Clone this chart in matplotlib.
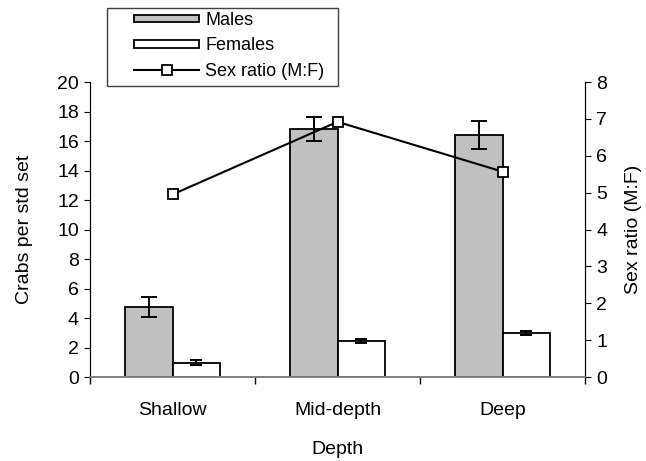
import matplotlib
matplotlib.use("Agg")
import matplotlib.pyplot as plt
import numpy as np
from matplotlib.patches import Patch, Rectangle
from matplotlib.lines import Line2D

plt.rcParams['font.family'] = ['Liberation Sans', 'DejaVu Sans']

categories = ["Shallow", "Mid-depth", "Deep"]
males = [4.77, 16.82, 16.42]
males_err = [0.68, 0.82, 0.95]
females = [0.97, 2.46, 3.00]
females_err = [0.15, 0.15, 0.13]
sex_ratio = [4.95, 6.92, 5.57]

W, H = 646, 461
fig = plt.figure(figsize=(W/100, H/100), dpi=100)
ax = fig.add_axes([90/W, 1-377/H, (585-90)/W, (377-82)/H])
ax2 = ax.twinx()

x = np.arange(len(categories))
w = 0.29
ax.bar(x - w/2, males, w, color="#C0C0C0", edgecolor="black", linewidth=1.3, zorder=2)
ax.bar(x + w/2, females, w, color="white", edgecolor="black", linewidth=1.3, zorder=2)
ax.errorbar(x - w/2, males, yerr=males_err, fmt="none", ecolor="black",
            elinewidth=1.4, capsize=5.8, capthick=1.4, zorder=3)
ax.errorbar(x + w/2, females, yerr=females_err, fmt="none", ecolor="black",
            elinewidth=1.4, capsize=4, capthick=1.4, zorder=3)

ax2.plot(x, sex_ratio, color="black", linewidth=1.5, marker="s", markersize=7,
         markerfacecolor="white", markeredgecolor="black", markeredgewidth=1.3, zorder=4)

ax.set_xlim(-0.5, 2.5)
ax.set_ylim(0, 20)
ax.set_yticks(np.arange(0, 21, 2))
ax2.set_ylim(0, 8)
ax2.set_yticks(np.arange(0, 9, 1))

fs = 14
ax.set_xticks(x)
ax.set_xticklabels(categories)
ax.set_xticks([-0.5, 0.5, 1.5, 2.5], minor=True)
ax.tick_params(axis="x", which="major", length=0, pad=18, labelsize=fs)
ax.tick_params(axis="x", which="minor", length=5, direction="out", width=1, color="black")
ax.tick_params(axis="y", length=4, direction="out", labelsize=fs, pad=4)
ax2.tick_params(axis="y", length=4, direction="out", labelsize=fs, pad=4)

for a in (ax, ax2):
    a.spines["top"].set_visible(False)
    a.spines["left"].set_color("black")
    a.spines["right"].set_color("black")
    a.spines["bottom"].set_color("#808080")
    a.spines["bottom"].set_linewidth(1.2)

ax.set_xlabel("Depth", fontsize=fs)
ax.set_ylabel("Crabs per std set", fontsize=fs)
ax2.set_ylabel("Sex ratio (M:F)", fontsize=fs)
axw, axh = 585-90, 377-82
ax.xaxis.set_label_coords((337-90)/axw, -(449-377)/axh)
ax.yaxis.set_label_coords((25-90)/axw, 0.5)
ax2.yaxis.set_label_coords((634-90)/axw, 0.5)
ax.xaxis.label.set_va("center")
ax.yaxis.label.set_va("center")
ax2.yaxis.label.set_va("center")

handles = [Patch(facecolor="#C0C0C0", edgecolor="black", linewidth=1.3),
           Patch(facecolor="white", edgecolor="black", linewidth=1.3),
           Line2D([], [], color="black", linewidth=1.5, marker="s", markersize=7,
                  markerfacecolor="white", markeredgecolor="black", markeredgewidth=1.3)]
labels = ["Males", "Females", "Sex ratio (M:F)"]
leg = fig.legend(handles, labels, loc="upper left", bbox_to_anchor=(134/W, 1-12/H),
                 fontsize=13, frameon=False, handlelength=3.6, handleheight=0.3,
                 labelspacing=0.46, handletextpad=0.35, borderpad=0.0, borderaxespad=0)
fig.patches.append(Rectangle((107/W, 1-86/H), (338-107)/W, (86-8)/H,
                             transform=fig.transFigure, facecolor="none",
                             edgecolor="#404040", linewidth=1.0))

fig.savefig("out.png", dpi=100)
